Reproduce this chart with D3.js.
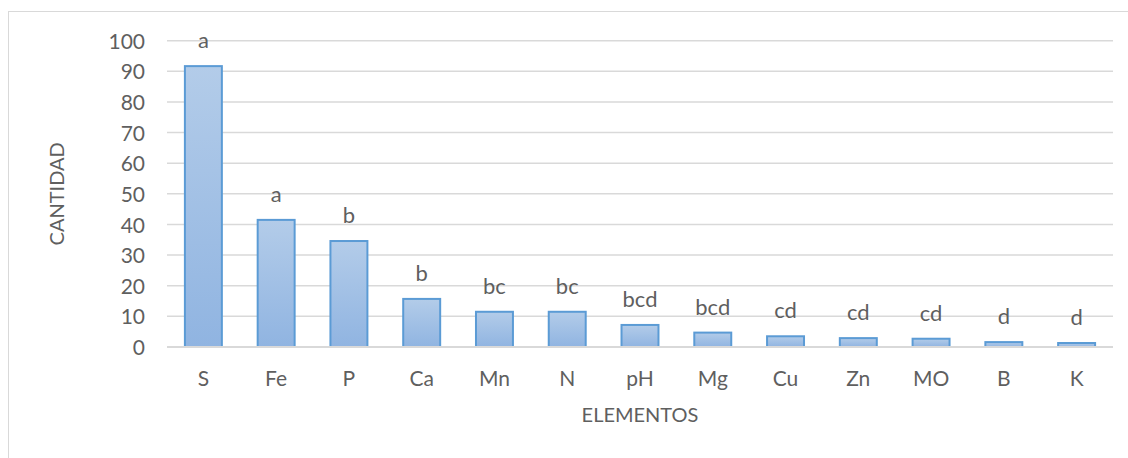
<!DOCTYPE html>
<html>
<head>
<meta charset="utf-8">
<script src="https://cdn.jsdelivr.net/npm/d3@7"></script>
<style>
  html, body { margin: 0; padding: 0; background: #fff; }
  svg { display: block; }
  text { font-family: Lato, "Open Sans", sans-serif; font-weight: 400; fill: #5f5f5f; }
</style>
</head>
<body>
<svg id="chart" width="1128" height="458"></svg>
<script>
// Elements and their measured quantity, with the significance group letters
const elementos = ["S", "Fe", "P", "Ca", "Mn", "N", "pH", "Mg", "Cu", "Zn", "MO", "B", "K"];
const cantidad  = [91.7, 41.5, 34.6, 15.7, 11.5, 11.5, 7.2, 4.7, 3.5, 2.9, 2.7, 1.6, 1.3];
const grupos    = ["a", "a", "b", "b", "bc", "bc", "bcd", "bcd", "cd", "cd", "cd", "d", "d"];
const yTicks    = [0, 10, 20, 30, 40, 50, 60, 70, 80, 90, 100];

const svg = d3.select("#chart");
const W = 1128, H = 458;
const plot = { left: 167, right: 1113, top: 40.7, bottom: 347 };
const FONT = "Lato, 'Open Sans', sans-serif";
const TEXT = "#5f5f5f";

// chart frame (only left and top edges fall inside the view)
svg.append("rect")
  .attr("x", 8.5).attr("y", 11.5)
  .attr("width", W + 20).attr("height", H + 20)
  .attr("fill", "#fff").attr("stroke", "#d9d9d9").attr("stroke-width", 1);

const x = d3.scaleBand()
  .domain(elementos)
  .range([plot.left, plot.right])
  .paddingInner(0.492)
  .paddingOuter(0.246);

const y = d3.scaleLinear().domain([0, 100]).range([plot.bottom, plot.top]);

// gradient fill for the bars
const defs = svg.append("defs");
const grad = defs.append("linearGradient")
  .attr("id", "barFill").attr("x1", 0).attr("y1", 0).attr("x2", 0).attr("y2", 1);
grad.append("stop").attr("offset", "0%").attr("stop-color", "#b3cce9");
grad.append("stop").attr("offset", "100%").attr("stop-color", "#90b4e1");

// horizontal gridlines
svg.append("g")
  .selectAll("line")
  .data(yTicks.filter(t => t > 0))
  .join("line")
  .attr("x1", plot.left).attr("x2", plot.right)
  .attr("y1", d => y(d)).attr("y2", d => y(d))
  .attr("stroke", "#d9d9d9").attr("stroke-width", 1.5);

// y axis tick labels
const yAxis = d3.axisLeft(y).tickValues(yTicks).tickSize(0).tickPadding(0);
const yg = svg.append("g").attr("transform", `translate(${plot.left - 22},0)`).call(yAxis);
yg.select(".domain").remove();
yg.selectAll("text")
  .attr("font-size", 21).attr("dy", "0.36em")
  .style("font-family", FONT).style("font-weight", 400).attr("fill", TEXT);

// bars
const rows = elementos.map((e, i) => ({ e, v: cantidad[i], g: grupos[i] }));
svg.append("g")
  .selectAll("rect")
  .data(rows)
  .join("rect")
  .attr("x", d => x(d.e))
  .attr("y", d => y(d.v))
  .attr("width", x.bandwidth())
  .attr("height", d => y(0) - y(d.v))
  .attr("fill", "url(#barFill)")
  .attr("stroke", "#5b9bd5").attr("stroke-width", 2);

// baseline
svg.append("line")
  .attr("x1", plot.left).attr("x2", plot.right)
  .attr("y1", y(0)).attr("y2", y(0))
  .attr("stroke", "#d9d9d9").attr("stroke-width", 2);

// group letters above the bars
svg.append("g")
  .selectAll("text")
  .data(rows)
  .join("text")
  .attr("x", d => x(d.e) + x.bandwidth() / 2)
  .attr("y", d => y(d.v) - 18)
  .attr("text-anchor", "middle")
  .attr("font-size", 22)
  .text(d => d.g);

// x axis category labels
const xAxis = d3.axisBottom(x).tickSize(0).tickPadding(0);
const xg = svg.append("g").attr("transform", `translate(0,${plot.bottom + 31})`).call(xAxis);
xg.select(".domain").remove();
xg.selectAll("text")
  .attr("font-size", 21).attr("dy", "0.36em")
  .style("font-family", FONT).style("font-weight", 400).attr("fill", TEXT);

// axis titles
svg.append("text")
  .attr("x", (plot.left + plot.right) / 2).attr("y", 415)
  .attr("dy", "0.36em").attr("text-anchor", "middle")
  .attr("font-size", 20)
  .text("ELEMENTOS");

svg.append("text")
  .attr("transform", `translate(57,${(plot.top + plot.bottom) / 2}) rotate(-90)`)
  .attr("dy", "0.36em").attr("text-anchor", "middle")
  .attr("font-size", 20)
  .text("CANTIDAD");
</script>
</body>
</html>
